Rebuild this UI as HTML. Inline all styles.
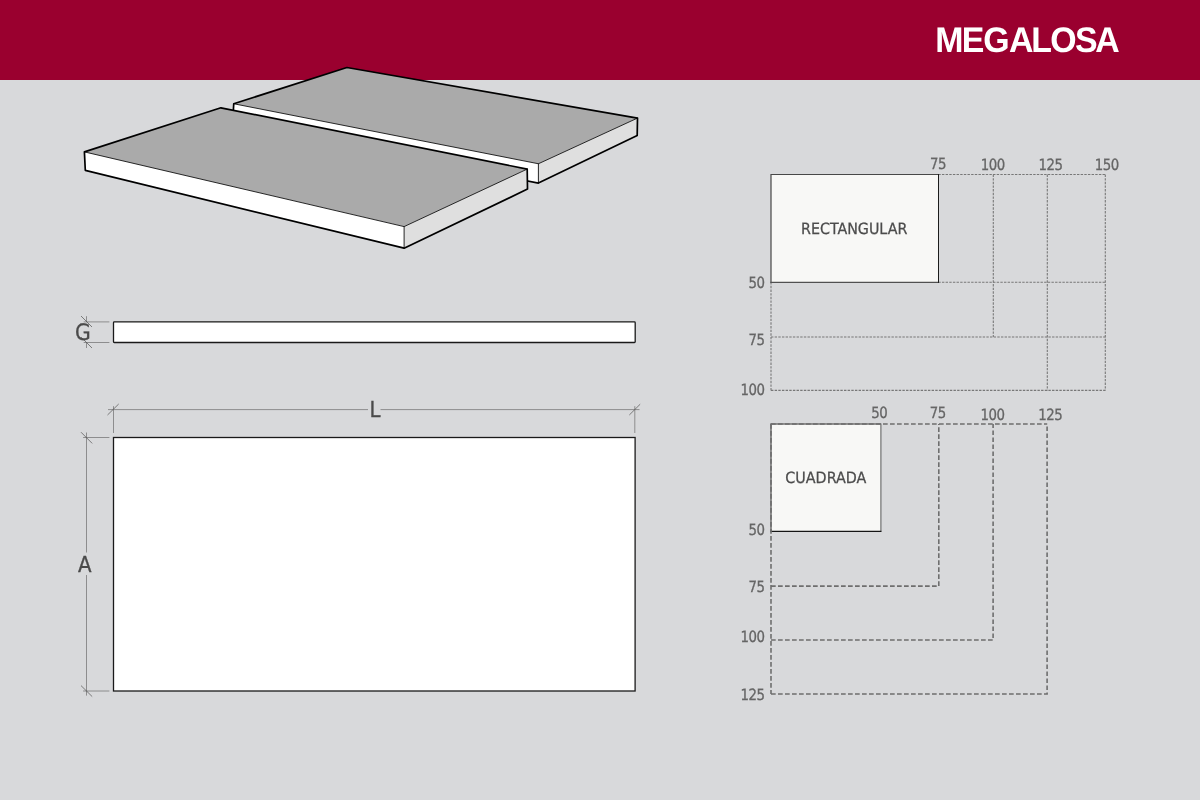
<!DOCTYPE html>
<html lang="es">
<head>
<meta charset="utf-8">
<title>MEGALOSA</title>
<style>
  html, body { margin: 0; padding: 0; background: #d8d9db; }
  body { width: 1200px; height: 800px; overflow: hidden; position: relative; font-family: "Liberation Sans", sans-serif; }
  svg { position: absolute; left: 0; top: 0; display: block; }
  text { text-rendering: geometricPrecision; }
  text { filter: contrast(1); }
  .title { font-family: "Liberation Sans", sans-serif; font-weight: 700; font-size: 35.6px; fill: #ffffff; }
  .num { font-family: "DejaVu Sans Condensed", "DejaVu Sans", "Liberation Sans", sans-serif; font-size: 15.5px; letter-spacing: -0.5px; fill: #666666; stroke: #666666; stroke-width: 0.3px; }
  .lbl { font-family: "DejaVu Sans Condensed", "DejaVu Sans", "Liberation Sans", sans-serif; font-size: 15.5px; fill: #4c4c4c; stroke: #4c4c4c; stroke-width: 0.25px; }
  .dim { font-family: "DejaVu Sans Condensed", "DejaVu Sans", "Liberation Sans", sans-serif; font-size: 22px; fill: #4a4a4a; stroke: #4a4a4a; stroke-width: 0.3px; }
  .thin { stroke: #7a7a7a; stroke-width: 0.8; fill: none; }
  .tick { stroke: #505050; stroke-width: 0.7; fill: none; }
  .dot { stroke: #777777; stroke-width: 1.1; fill: none; stroke-dasharray: 2.4 1.25; }
  .dash { stroke: #6e6e6e; stroke-width: 1.6; fill: none; stroke-dasharray: 4.7 2.3; }
</style>
</head>
<body>
<svg width="1200" height="800" viewBox="0 0 1200 800">
  <!-- background + header -->
  <rect x="0" y="0" width="1200" height="800" fill="#d8d9db"/>
  <rect x="0" y="0" width="1200" height="80" fill="#9a002f"/>
  <text class="title" transform="scale(0.952,1)" x="982.34 1010.27 1032.8 1059.91 1083.39 1103.19 1129.22 1150.51" y="52">MEGALOSA</text>

  <!-- back slab -->
  <g stroke-linejoin="round" stroke-linecap="round">
    <polygon points="233.75,103.75 346.9,67.5 637.5,118.1 538.4,163.75" fill="#aaaaaa"/>
    <polygon points="233.75,103.75 538.4,163.75 538.4,183.1 233.25,123" fill="#ffffff"/>
    <polygon points="538.4,163.75 637.5,118.1 637.2,135.6 538.4,183.1" fill="#dfdfdf"/>
    <path d="M233.75,103.75 L538.4,163.75 L637.5,118.1 M538.4,163.75 L538.4,183.1" fill="none" stroke="#111" stroke-width="0.9"/>
    <path d="M233.25,112 L233.75,103.75 L346.9,67.5 L637.5,118.1 L637.2,135.6 L538.4,183.1 L520,179.5" fill="none" stroke="#000" stroke-width="1.7"/>
  </g>
  <!-- front slab -->
  <g stroke-linejoin="round" stroke-linecap="round">
    <polygon points="84.4,151.9 220.9,107.8 527.2,169.1 404.1,226.6" fill="#aaaaaa"/>
    <polygon points="84.4,151.9 404.1,226.6 404.1,248.2 85.3,170.3" fill="#ffffff"/>
    <polygon points="404.1,226.6 527.2,169.1 527.5,189.1 404.1,248.2" fill="#dfdfdf"/>
    <path d="M84.4,151.9 L404.1,226.6 L527.2,169.1 M404.1,226.6 L404.1,248.2" fill="none" stroke="#111" stroke-width="0.9"/>
    <path d="M84.4,151.9 L220.9,107.8 L527.2,169.1 L527.5,189.1 L404.1,248.2 L85.3,170.3 Z" fill="none" stroke="#000" stroke-width="1.7"/>
  </g>

  <!-- side view -->
  <rect x="113.5" y="321.9" width="521.7" height="20.6" rx="0.8" fill="#ffffff" stroke="#1a1a1a" stroke-width="1.3"/>
  <path class="thin" d="M83.7,321.9 H109.4 M83.7,342.5 H109.4 M86.5,316.2 V322 M86.5,342.5 V348"/>
  <path class="tick" d="M81,316 L92,327 M81,337 L92,348"/>
  <text class="dim" x="82.8" y="340" text-anchor="middle" style="font-size:22.6px">G</text>

  <!-- plan view -->
  <rect x="113.5" y="437.5" width="521.6" height="253.5" fill="#ffffff" stroke="#1a1a1a" stroke-width="1.3"/>
  <path class="thin" d="M108,409.6 H368 M380.5,409.6 H639.5 M113.5,406.2 V433 M634.8,406.2 V433 M86.5,432.5 V552.5 M86.5,575 V695.6 M83.1,437.5 H109.4 M83.1,691 H109.4"/>
  <path class="tick" d="M107.5,415 L118.7,404 M629.3,415 L640.2,404.2 M81,432.2 L92.2,443.4 M81,685.6 L92.2,696.6"/>
  <text class="dim" x="375" y="417.2" text-anchor="middle">L</text>
  <text class="dim" x="84.7" y="571.8" text-anchor="middle">A</text>

  <!-- rectangular chart -->
  <g class="dot">
    <path d="M938.3,174.5 H1105.3"/>
    <path d="M938.3,282.2 H1105.3"/>
    <path d="M771,337 H1105.3"/>
    <path d="M771,390.4 H1105.3"/>
    <path d="M771,282.2 V390.4"/>
    <path d="M993.3,174.5 V337"/>
    <path d="M1047.3,174.5 V390.4"/>
    <path d="M1105.3,174.5 V390.4"/>
  </g>
  <rect x="771" y="174.5" width="167.5" height="107.8" fill="#f8f8f6"/>
  <path d="M771,282.8 V174.5 H938.5" fill="none" stroke="#484848" stroke-width="1.2"/>
  <path d="M770.4,282.4 H939" fill="none" stroke="#505050" stroke-width="1.1"/>
  <path d="M938.5,174 V282.9" fill="none" stroke="#1c1c1c" stroke-width="1"/>
  <text class="lbl" x="854.2" y="233.7" text-anchor="middle" textLength="106.3" lengthAdjust="spacingAndGlyphs">RECTANGULAR</text>
  <g class="num">
    <text transform="translate(938.05,169) scale(0.955,1)" text-anchor="middle">75</text>
    <text transform="translate(992.85,170) scale(0.955,1)" text-anchor="middle">100</text>
    <text transform="translate(1050.45,170) scale(0.955,1)" text-anchor="middle">125</text>
    <text transform="translate(1106.85,170) scale(0.955,1)" text-anchor="middle">150</text>
    <text transform="translate(764.4,288) scale(0.955,1)" text-anchor="end">50</text>
    <text transform="translate(764.4,345) scale(0.955,1)" text-anchor="end">75</text>
    <text transform="translate(764.4,395) scale(0.955,1)" text-anchor="end">100</text>
  </g>

  <!-- cuadrada chart -->
  <rect x="771" y="424" width="109.9" height="107.4" fill="#f8f8f6"/>
  <path d="M771,531.4 V424 H880.9" fill="none" stroke="#707070" stroke-width="1.5"/>
  <path d="M880.9,423.6 V531.8" fill="none" stroke="#666666" stroke-width="1.1"/>
  <path d="M770.4,531.4 H881.4" fill="none" stroke="#151515" stroke-width="1.1"/>
  <g class="dash">
    <path d="M771,424 H1047.2"/>
    <path d="M771,424 V694"/>
    <path d="M771,586.1 H938.8 V424"/>
    <path d="M771,640 H993.1 V424"/>
    <path d="M771,694 H1047.1 V424"/>
  </g>
  <text class="lbl" x="825.8" y="482.5" text-anchor="middle" textLength="81" lengthAdjust="spacingAndGlyphs">CUADRADA</text>
  <g class="num">
    <text transform="translate(879.15,418) scale(0.955,1)" text-anchor="middle">50</text>
    <text transform="translate(937.75,418) scale(0.955,1)" text-anchor="middle">75</text>
    <text transform="translate(992.55,420) scale(0.955,1)" text-anchor="middle">100</text>
    <text transform="translate(1050.25,420) scale(0.955,1)" text-anchor="middle">125</text>
    <text transform="translate(764.4,535) scale(0.955,1)" text-anchor="end">50</text>
    <text transform="translate(764.4,592) scale(0.955,1)" text-anchor="end">75</text>
    <text transform="translate(764.6,642) scale(0.955,1)" text-anchor="end">100</text>
    <text transform="translate(764.6,700) scale(0.955,1)" text-anchor="end">125</text>
  </g>
</svg>
</body>
</html>
